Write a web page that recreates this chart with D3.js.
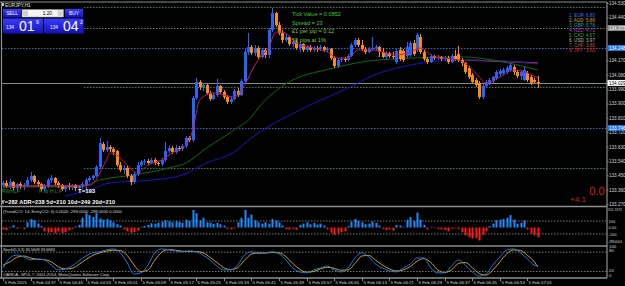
<!DOCTYPE html>
<html>
<head>
<meta charset="utf-8">
<script src="https://cdnjs.cloudflare.com/ajax/libs/d3/7.8.5/d3.min.js"></script>
<style>
body { margin: 0; background: #000; overflow: hidden; }
text { font-family: "Liberation Sans", "DejaVu Sans", sans-serif; }
</style>
</head>
<body>
<script>
var width = 625,
    height = 286;

// ---- data ----
var symbol = "EURJPY,H1";

var timeLabels = ["5 Feb 2015", "5 Feb 04:37", "5 Feb 04:45", "5 Feb 04:53", "5 Feb 05:01",
    "5 Feb 05:09", "5 Feb 05:17", "5 Feb 05:25", "5 Feb 05:33", "5 Feb 05:41", "5 Feb 05:49",
    "5 Feb 05:57", "5 Feb 06:05", "5 Feb 06:13", "5 Feb 06:21", "5 Feb 06:29", "5 Feb 06:37",
    "5 Feb 06:45", "5 Feb 06:53", "5 Feb 07:01"];

var priceTicks = [134.530, 134.440, 134.350, 134.260, 134.170, 134.080, 133.990, 133.900,
    133.810, 133.720, 133.630, 133.540, 133.450, 133.360, 133.270];

// open, high, low, close
var candles = [
[133.389,133.414,133.370,133.402],[133.402,133.420,133.370,133.383],[133.383,133.427,133.364,133.408],
[133.408,133.414,133.358,133.370],[133.370,133.402,133.351,133.395],[133.395,133.408,133.364,133.383],
[133.383,133.402,133.358,133.389],[133.389,133.439,133.377,133.420],[133.420,133.471,133.408,133.446],
[133.446,133.452,133.395,133.408],[133.408,133.420,133.377,133.395],[133.395,133.402,133.351,133.364],
[133.364,133.395,133.351,133.383],[133.383,133.433,133.370,133.420],[133.420,133.452,133.402,133.433],
[133.433,133.439,133.389,133.402],[133.402,133.414,133.370,133.389],[133.389,133.395,133.351,133.364],
[133.364,133.389,133.345,133.383],[133.383,133.402,133.358,133.377],[133.377,133.395,133.358,133.389],
[133.389,133.395,133.351,133.370],[133.370,133.389,133.351,133.383],[133.383,133.408,133.364,133.395],
[133.389,133.433,133.358,133.420],[133.420,133.446,133.408,133.433],[133.433,133.452,133.420,133.446],
[133.446,133.514,133.439,133.502],[133.502,133.684,133.489,133.652],[133.646,133.659,133.596,133.609],
[133.609,133.665,133.596,133.627],[133.627,133.640,133.596,133.615],[133.615,133.627,133.577,133.596],
[133.602,133.609,133.502,133.514],[133.514,133.533,133.471,133.483],[133.483,133.514,133.458,133.496],
[133.496,133.508,133.433,133.446],[133.446,133.458,133.389,133.408],[133.408,133.471,133.395,133.458],
[133.458,133.533,133.446,133.514],[133.514,133.546,133.502,133.533],[133.533,133.552,133.514,133.540],
[133.540,133.552,133.514,133.527],[133.527,133.558,133.521,133.546],[133.546,133.558,133.514,133.527],
[133.527,133.540,133.508,133.521],[133.521,133.558,133.508,133.546],[133.546,133.659,133.533,133.602],
[133.602,133.634,133.590,133.621],[133.621,133.634,133.583,133.596],[133.596,133.640,133.583,133.621],
[133.621,133.634,133.602,133.615],[133.615,133.646,133.602,133.634],[133.634,133.696,133.621,133.684],
[133.684,133.696,133.659,133.671],[133.671,133.947,133.659,133.935],[133.935,134.060,133.922,134.035],
[134.035,134.047,133.985,134.004],[134.004,134.029,133.978,134.016],[134.016,134.022,133.953,133.966],
[133.966,133.978,133.916,133.928],[133.928,133.966,133.922,133.953],[133.953,134.054,133.941,134.010],
[134.010,134.016,133.960,133.972],[133.972,133.985,133.928,133.941],[133.941,133.953,133.897,133.910],
[133.910,133.941,133.897,133.928],[133.928,133.991,133.922,133.978],[133.978,133.997,133.941,133.953],
[133.953,134.054,133.947,134.041],[134.041,134.248,134.029,134.223],[134.223,134.342,134.204,134.254],
[134.254,134.267,134.204,134.217],[134.217,134.267,134.198,134.248],[134.248,134.261,134.179,134.192],
[134.192,134.248,134.185,134.236],[134.236,134.248,134.185,134.204],[134.204,134.373,134.185,134.361],
[134.361,134.499,134.348,134.467],[134.467,134.474,134.380,134.392],[134.392,134.411,134.330,134.342],
[134.342,134.361,134.279,134.298],[134.298,134.336,134.286,134.317],[134.317,134.323,134.261,134.273],
[134.273,134.298,134.254,134.286],[134.286,134.298,134.236,134.248],[134.248,134.286,134.223,134.273],
[134.273,134.279,134.223,134.236],[134.236,134.267,134.223,134.254],[134.254,134.267,134.223,134.236],
[134.236,134.261,134.223,134.248],[134.248,134.261,134.223,134.242],[134.242,134.267,134.229,134.254],
[134.254,134.261,134.223,134.236],[134.236,134.254,134.223,134.242],[134.242,134.248,134.173,134.185],
[134.185,134.198,134.123,134.135],[134.135,134.185,134.123,134.173],[134.173,134.192,134.160,134.179],
[134.179,134.192,134.160,134.173],[134.173,134.210,134.167,134.198],[134.198,134.279,134.192,134.267],
[134.267,134.311,134.254,134.298],[134.298,134.311,134.254,134.267],[134.267,134.298,134.229,134.242],
[134.242,134.254,134.210,134.223],[134.223,134.254,134.217,134.242],[134.242,134.317,134.229,134.248],
[134.248,134.267,134.236,134.254],[134.254,134.261,134.192,134.223],[134.223,134.248,134.185,134.192],
[134.192,134.229,134.179,134.217],[134.217,134.223,134.185,134.198],[134.198,134.223,134.179,134.192],
[134.160,134.242,134.148,134.229],[134.236,134.254,134.167,134.179],[134.229,134.242,134.160,134.173],
[134.198,134.286,134.185,134.254],[134.204,134.292,134.192,134.279],[134.279,134.298,134.198,134.210],
[134.236,134.342,134.223,134.330],[134.317,134.336,134.210,134.223],[134.223,134.236,134.167,134.179],
[134.179,134.192,134.148,134.160],[134.160,134.210,134.154,134.198],[134.198,134.204,134.173,134.185],
[134.185,134.204,134.173,134.192],[134.192,134.198,134.167,134.179],[134.179,134.198,134.167,134.185],
[134.185,134.198,134.148,134.160],[134.160,134.210,134.154,134.198],[134.198,134.236,134.167,134.179],
[134.210,134.261,134.160,134.173],[134.173,134.185,134.135,134.154],[134.154,134.160,134.085,134.098],
[134.123,134.135,134.054,134.066],[134.079,134.091,134.022,134.035],[134.047,134.060,134.004,134.016],
[134.029,134.041,133.928,133.941],[133.941,134.022,133.928,134.010],[134.010,134.047,133.997,134.035],
[134.029,134.060,134.016,134.047],[134.041,134.073,134.029,134.066],[134.060,134.110,134.047,134.098],
[134.085,134.116,134.073,134.104],[134.091,134.123,134.079,134.110],[134.098,134.135,134.085,134.123],
[134.110,134.154,134.098,134.141],[134.129,134.141,134.079,134.098],[134.098,134.110,134.060,134.073],
[134.073,134.110,134.047,134.098],[134.047,134.129,134.041,134.110],[134.091,134.104,134.035,134.047],
[134.066,134.079,134.016,134.029],[134.047,134.060,134.022,134.035],[134.035,134.073,133.997,134.029]
];

// moving averages, [bar, price]
var maFast = [[0,133.377],[9,133.383],[19,133.383],[25,133.389],[27,133.420],[28,133.464],[30,133.546],
    [31,133.590],[33,133.577],[36,133.514],[39,133.464],[42,133.514],[46,133.546],[49,133.590],
    [53,133.640],[55,133.734],[57,133.922],[61,133.966],[67,133.941],[70,134.016],[73,134.141],
    [75,134.204],[77,134.248],[79,134.348],[81,134.348],[85,134.279],[90,134.248],[94,134.223],
    [97,134.185],[100,134.185],[103,134.236],[107,134.236],[110,134.223],[114,134.204],[118,134.223],
    [121,134.248],[125,134.192],[132,134.173],[137,134.091],[140,134.029],[144,134.066],[148,134.110],
    [152,134.091],[155,134.060]];
var maMid = [[0,133.377],[22,133.377],[28,133.420],[38,133.452],[48,133.496],[53,133.527],[59,133.621],
    [67,133.734],[72,133.815],[74,133.872],[81,134.010],[96,134.123],[109,134.173],[133,134.192],
    [145,134.160],[155,134.110]];
var maSlow = [[18,133.320],[25,133.358],[31,133.402],[43,133.420],[52,133.452],[59,133.527],[67,133.596],
    [72,133.684],[86,133.859],[100,133.997],[110,134.098],[133,134.173],[145,134.167],[155,134.148]];
var dayOpenLeft = [[0,133.383],[24,133.383]];
var dayOpenRight = [[134,134.173],[155,134.154]];

// horizontal levels
var greenLevels = [134.505, 134.004, 133.496];
var blueLevels = [134.248, 133.746];
var grayLevels = [134.373];

var cci = [-30,-40,10,35,-20,5,-25,80,130,110,60,20,-60,-80,-70,-90,-60,-85,-75,-40,
    -20,15,40,150,220,190,160,220,140,120,130,110,80,50,30,-30,-60,-80,-70,-50,
    10,25,40,65,60,75,90,110,95,80,95,85,70,120,100,270,220,110,150,80,
    75,55,70,50,30,-20,-25,-15,80,150,270,150,200,110,80,60,80,60,130,110,
    80,30,-25,-30,-20,-35,40,60,80,50,70,45,60,30,-30,-80,-110,-90,-70,-60,
    20,90,130,100,80,50,60,90,70,30,-20,-40,-30,-50,40,30,10,120,160,100,
    230,120,40,-30,10,-10,-20,-30,-40,-60,-20,-10,-20,-70,-120,-150,-170,-160,-200,-110,
    -60,20,60,110,120,130,150,190,120,60,70,110,-30,-90,-120,-150];

var stochMain = [[0,31],[2,62],[4,71],[6,65],[8,56],[10,59],[12,56],[14,40],[16,25],[18,28],[20,37],
    [22,53],[24,68],[26,78],[28,81],[30,87],[32,90],[34,78],[36,47],[38,12],[40,16],[42,40],[44,78],
    [46,90],[48,87],[50,84],[52,81],[54,84],[56,81],[58,71],[60,56],[62,37],[64,25],[66,25],[68,40],
    [70,71],[72,81],[74,75],[76,78],[78,81],[80,75],[82,56],[84,31],[86,19],[88,16],[90,25],[92,31],
    [94,37],[96,25],[98,19],[100,31],[102,62],[104,78],[106,65],[108,43],[110,31],[112,22],[114,19],
    [116,31],[118,43],[120,62],[122,62],[124,31],[126,16],[128,16],[130,37],[132,56],[134,40],[136,19],
    [138,6],[140,12],[142,40],[144,65],[146,87],[148,90],[150,78],[152,59],[154,40],[155,37]];
var stochSignal = [[0,40],[2,50],[4,64],[6,68],[8,62],[10,58],[12,57],[14,50],[16,35],[18,28],[20,30],
    [22,42],[24,57],[26,70],[28,78],[30,83],[32,86],[34,85],[36,70],[38,40],[40,20],[42,25],[44,55],
    [46,80],[48,88],[50,86],[52,83],[54,82],[56,82],[58,78],[60,64],[62,48],[64,32],[66,26],[68,32],
    [70,55],[72,74],[74,78],[76,77],[78,79],[80,78],[82,66],[84,45],[86,27],[88,18],[90,20],[92,28],
    [94,33],[96,30],[98,24],[100,25],[102,45],[104,68],[106,70],[108,55],[110,40],[112,28],[114,22],
    [116,25],[118,35],[120,52],[122,60],[124,48],[126,25],[128,17],[130,25],[132,45],[134,48],[136,32],
    [138,14],[140,9],[142,25],[144,50],[146,75],[148,87],[150,85],[152,70],[154,50],[155,34]];

var infoLines = ["Tick Value = 0.0852", "Spread = 23", "\u00a31 per pip = 0.12", "58 pips at 1%"];
var strengthNames = ["EUR", "AUD", "GBP", "NZD", "CAD", "USD", "CHF", "JPY"];
var strengthValues = ["6.80", "5.86", "5.78", "4.71", "4.57", "3.97", "3.80", "3.60"];
var strengthColors = ["#3b78ff", "#d9a300", "#18a8a8", "#b43cc8", "#2fae2f", "#bdbdbd", "#c8503c", "#e02828"];

var rangeText = "Y=282  ADR=238  5d=210  10d=249  20d=210";
var pivotTags = ["RWHLF", "RWHLF"];
var cciTitle = "(TrendCCI: 14, EntryCCI: 6) 0.0000 -299.0000 -299.0000 0.0000";
var stochTitle = "Stoch(5,3,3) 36.5609 33.6663";
var copyright = "OANDA - MT4, \u00a9 2001-2014, MetaQuotes Software Corp.";
var cciAxisLabels = [[300, "311.7472"], [100, "100"], [0, "0.00"], [-100, "-100"], [-215, "-288.6004"]];
var stochAxisLabels = [[96, "100"], [84, "80"], [22, "20"], [8, "0"]];

// ---- layout ----
var axisX = 607;
var mainTop = 2, mainBottom = 206, cciTop = 207, cciBottom = 246, stochTop = 247, stochBottom = 278;
var upColor = "#2366ff", downColor = "#ff8a10";
var gridGray = "#8e8e8e", labelColor = "#d8d8d8";

var svg = d3.select("body").append("svg")
    .attr("width", width)
    .attr("height", height)
    .style("background-color", "#000");

var x = d3.scaleLinear().domain([0, candles.length - 1]).range([3, 537.8]);
var y = d3.scaleLinear().domain([133.270, 134.530]).range([204, 3]);
var yCci = d3.scaleLinear().domain([-100, 100]).range([234, 221]);
var yStoch = d3.scaleLinear().domain([0, 100]).range([stochBottom, 245.7]);

var defs = svg.append("defs");
function clip(id, top, bottom) {
    defs.append("clipPath").attr("id", id).append("rect")
        .attr("x", 2).attr("y", top).attr("width", axisX - 2).attr("height", bottom - top);
}
clip("cMain", mainTop + 1, mainBottom);
clip("cCci", cciTop + 1, cciBottom);
clip("cStoch", stochTop + 1, stochBottom);

var main = svg.append("g").attr("clip-path", "url(#cMain)");

// horizontal levels
function level(prices, color, dash, x0) {
    main.selectAll(null).data(prices).enter().append("line")
        .attr("x1", x0).attr("x2", axisX)
        .attr("y1", d => Math.round(y(d)) + 0.5).attr("y2", d => Math.round(y(d)) + 0.5)
        .attr("stroke", color).attr("stroke-width", 1)
        .attr("stroke-dasharray", dash);
}
level(greenLevels, "#2e8b57", "1.5,1.5", 84);
level(blueLevels, "#1e70d0", "1.5,1.5", 2);
level(grayLevels, "#7a7a7a", "1.5,1.5", 84);

var last = candles[candles.length - 1][3];
main.append("line")
    .attr("x1", 2).attr("x2", axisX)
    .attr("y1", Math.round(y(last)) + 0.5).attr("y2", Math.round(y(last)) + 0.5)
    .attr("stroke", "#8a8a8a").attr("stroke-width", 1);

// moving averages
var maLine = d3.line().x(d => x(d[0])).y(d => y(d[1])).curve(d3.curveMonotoneX);
main.append("path").datum(dayOpenLeft).attr("d", maLine).attr("fill", "none").attr("stroke", "#9a2a10").attr("stroke-width", 1.2);
main.append("path").datum(dayOpenRight).attr("d", maLine).attr("fill", "none").attr("stroke", "#a8320c").attr("stroke-width", 1.6);
main.append("path").datum(maSlow).attr("d", maLine).attr("fill", "none").attr("stroke", "#1414c8").attr("stroke-width", 1);
main.append("path").datum(maMid).attr("d", maLine).attr("fill", "none").attr("stroke", "#0a6a0a").attr("stroke-width", 1);

// candles
var bars = main.selectAll(".bar").data(candles).enter().append("g").attr("class", "bar");
bars.append("line")
    .attr("x1", (d, i) => Math.round(x(i)) + 0.5).attr("x2", (d, i) => Math.round(x(i)) + 0.5)
    .attr("y1", d => y(d[1])).attr("y2", d => y(d[2]))
    .attr("stroke", d => d[3] >= d[0] ? upColor : downColor).attr("stroke-width", 1);
bars.append("rect")
    .attr("x", (d, i) => Math.round(x(i)) - 1)
    .attr("y", d => y(Math.max(d[0], d[3])))
    .attr("width", 3)
    .attr("height", d => Math.max(1, Math.abs(y(d[0]) - y(d[3]))))
    .attr("fill", d => d[3] >= d[0] ? upColor : downColor);

main.append("path").datum(maFast).attr("d", maLine).attr("fill", "none").attr("stroke", "#c8146e").attr("stroke-width", 1);

// info text
svg.selectAll(".info").data(infoLines).enter().append("text")
    .attr("x", 292).attr("y", (d, i) => 16 + i * 8.7)
    .attr("font-size", 5.6).attr("fill", (d, i) => i < 2 ? "#3cc83c" : "#78c83c")
    .text(d => d);

// currency strength
var st = svg.selectAll(".str").data(strengthNames).enter().append("g")
    .attr("transform", (d, i) => "translate(0," + (16.5 + i * 5) + ")");
st.append("text").attr("x", 569).attr("font-size", 4.6).attr("fill", (d, i) => strengthColors[i])
    .text((d, i) => (i + 1) + ". " + d);
st.append("text").attr("x", 586).attr("font-size", 4.6).attr("fill", (d, i) => strengthColors[i])
    .text((d, i) => strengthValues[i]);

// trading panel
var grad = defs.append("linearGradient").attr("id", "gBlue").attr("x1", 0).attr("x2", 0).attr("y1", 0).attr("y2", 1);
grad.append("stop").attr("offset", 0).attr("stop-color", "#3a3aff");
grad.append("stop").attr("offset", 1).attr("stop-color", "#1212b8");
svg.append("text").attr("x", 5).attr("y", 6.5).attr("font-size", 4.8).attr("fill", "#e0e0e0").text(symbol);
svg.append("rect").attr("x", 1.5).attr("y", 3).attr("width", 2.5).attr("height", 3).attr("fill", "#c0c0c0");
svg.append("rect").attr("x", 3).attr("y", 9).attr("width", 18).attr("height", 8.5).attr("fill", "url(#gBlue)");
svg.append("rect").attr("x", 65).attr("y", 9).attr("width", 18).attr("height", 8.5).attr("fill", "url(#gBlue)");
svg.append("rect").attr("x", 22).attr("y", 9.5).attr("width", 41.5).attr("height", 7.5).attr("fill", "#f4f4f4").attr("stroke", "#9a9a9a").attr("stroke-width", 0.5);
svg.append("rect").attr("x", 23).attr("y", 10.5).attr("width", 5).attr("height", 5.5).attr("fill", "#cfcfcf");
svg.append("rect").attr("x", 57.5).attr("y", 10.5).attr("width", 5).attr("height", 5.5).attr("fill", "#cfcfcf");
svg.append("text").attr("x", 12).attr("y", 15).attr("font-size", 4.8).attr("fill", "#fff").attr("text-anchor", "middle").text("SELL");
svg.append("text").attr("x", 74).attr("y", 15).attr("font-size", 4.8).attr("fill", "#fff").attr("text-anchor", "middle").text("BUY");
svg.append("text").attr("x", 52).attr("y", 15).attr("font-size", 4.8).attr("fill", "#000").attr("text-anchor", "end").text("1.20");
svg.append("rect").attr("x", 3).attr("y", 18.5).attr("width", 40).attr("height", 15).attr("fill", "url(#gBlue)");
svg.append("rect").attr("x", 44).attr("y", 18.5).attr("width", 39.5).attr("height", 15).attr("fill", "url(#gBlue)");
var quotes = [["134", "01", "9", 6], ["134", "04", "2", 50]];
quotes.forEach(function (q) {
    svg.append("text").attr("x", q[3]).attr("y", 29).attr("font-size", 4.8).attr("fill", "#fff").text(q[0]);
    svg.append("text").attr("x", q[3] + 13).attr("y", 31).attr("font-size", 14).attr("fill", "#fff").text(q[1]);
    svg.append("text").attr("x", q[3] + 30).attr("y", 24).attr("font-size", 5).attr("fill", "#fff").text(q[2]);
});

// misc labels in the main pane
svg.append("text").attr("x", 1).attr("y", 204).attr("font-size", 5.6).attr("font-weight", "bold")
    .attr("fill", "#fff").attr("textLength", 114).text(rangeText);
svg.append("text").attr("x", 78).attr("y", 193).attr("font-size", 6).attr("font-weight", "bold")
    .attr("fill", "#fff").text("T=193");
svg.selectAll(".piv").data(pivotTags).enter().append("text")
    .attr("x", (d, i) => i === 0 ? 2 : 39).attr("y", 192.5)
    .attr("font-size", 5).attr("fill", "#22b422").attr("opacity", 0.85)
    .attr("textLength", (d, i) => i === 0 ? 18 : 23).text(d => d);
svg.append("text").attr("x", 597).attr("y", 195).attr("font-size", 11).attr("fill", "#d21e1e")
    .attr("text-anchor", "middle").text("0.0");
svg.append("text").attr("x", 578).attr("y", 201.5).attr("font-size", 8).attr("fill", "#d21e1e")
    .attr("text-anchor", "middle").text("+4.1");

// CCI pane
var cg = svg.append("g").attr("clip-path", "url(#cCci)");
[100, -100].forEach(function (v) {
    cg.append("line").attr("x1", 2).attr("x2", axisX).attr("y1", yCci(v)).attr("y2", yCci(v))
        .attr("stroke", "#777").attr("stroke-dasharray", "1.5,1.5");
});
cg.selectAll(".cci").data(cci).enter().append("rect")
    .attr("x", (d, i) => Math.round(x(i)) - 0.5)
    .attr("y", d => Math.min(yCci(0), yCci(d)))
    .attr("width", 2)
    .attr("height", d => Math.abs(yCci(d) - yCci(0)))
    .attr("fill", d => d >= 0 ? "#1e8cff" : "#ff1a1a");
svg.append("text").attr("x", 3).attr("y", 212.5).attr("font-size", 4.3).attr("fill", "#cfcfcf")
    .attr("textLength", 119).text(cciTitle);

// Stochastic pane
var sg = svg.append("g").attr("clip-path", "url(#cStoch)");
[80, 20].forEach(function (v) {
    sg.append("line").attr("x1", 2).attr("x2", axisX).attr("y1", yStoch(v)).attr("y2", yStoch(v))
        .attr("stroke", "#777").attr("stroke-dasharray", "1.5,1.5");
});
var stLine = d3.line().x(d => x(d[0])).y(d => yStoch(d[1])).curve(d3.curveMonotoneX);
sg.append("path").datum(stochSignal).attr("d", stLine).attr("fill", "none").attr("stroke", "#d4a514").attr("stroke-width", 1);
sg.append("path").datum(stochMain).attr("d", stLine).attr("fill", "none").attr("stroke", "#1e78e6").attr("stroke-width", 1);
svg.append("text").attr("x", 3).attr("y", 251).attr("font-size", 4.3).attr("fill", "#cfcfcf")
    .attr("textLength", 52).text(stochTitle);
svg.append("text").attr("x", 3).attr("y", 276).attr("font-size", 4.3).attr("fill", "#cfcfcf")
    .attr("textLength", 107).text(copyright);

// frames
var frame = svg.append("g").attr("stroke", gridGray).attr("stroke-width", 1.2);
frame.append("line").attr("x1", 0).attr("x2", axisX).attr("y1", mainTop).attr("y2", mainTop);
[mainBottom + 0.5, cciBottom, stochBottom].forEach(function (v) {
    frame.append("line").attr("x1", 0).attr("x2", axisX).attr("y1", v).attr("y2", v).attr("stroke-width", 1.6);
});
frame.append("line").attr("x1", 1.5).attr("x2", 1.5).attr("y1", mainTop).attr("y2", stochBottom);
frame.append("line").attr("x1", axisX).attr("x2", axisX).attr("y1", mainTop).attr("y2", stochBottom);

// price axis; tick labels hidden under a price tag are left out
var tagPrices = grayLevels.concat(blueLevels, [last]);
var shownTicks = priceTicks.filter(t => tagPrices.every(p => Math.abs(y(t) - y(p)) > 4));
var axis = svg.append("g").attr("transform", "translate(" + axisX + ",0)")
    .call(d3.axisRight(y).tickValues(shownTicks).tickSize(1.5).tickFormat(d3.format(".3f")));
axis.select(".domain").remove();
axis.selectAll("line").attr("stroke", gridGray);
axis.selectAll("text").attr("x", 2).attr("font-size", 4.6).attr("fill", labelColor)
    .style("font-family", "Liberation Sans, sans-serif");

function tag(price, bg, fg) {
    var yy = y(price);
    svg.append("rect").attr("x", axisX + 0.5).attr("y", yy - 3).attr("width", 17.5).attr("height", 6).attr("fill", bg);
    svg.append("text").attr("x", axisX + 2).attr("y", yy + 1.7).attr("font-size", 4.6).attr("fill", fg)
        .text(d3.format(".3f")(price));
}
grayLevels.forEach(p => tag(p, "#8a8a8a", "#fff"));
blueLevels.forEach(p => tag(p, "#1e78e6", "#fff"));
tag(last, "#fff", "#000");

cciAxisLabels.forEach(function (d) {
    var long = d[1].length > 5;
    var t = svg.append("text").attr("x", axisX + (long ? 1 : 1.5))
        .attr("y", Math.max(cciTop + 4, yCci(d[0]) + 1.5))
        .attr("font-size", long ? 3.5 : 4).attr("fill", labelColor).text(d[1]);
    if (long) t.attr("textLength", 14).attr("lengthAdjust", "spacingAndGlyphs");
});
stochAxisLabels.forEach(function (d) {
    svg.append("text").attr("x", axisX + 2).attr("y", yStoch(d[0]) + 1.5)
        .attr("font-size", 4.3).attr("fill", labelColor).text(d[1]);
});

// time axis
var tg = svg.selectAll(".tl").data(timeLabels).enter().append("g")
    .attr("transform", (d, i) => "translate(" + Math.round(x(i * 8)) + ",0)");
tg.append("line").attr("x1", 0.5).attr("x2", 0.5).attr("y1", stochBottom).attr("y2", stochBottom + 3)
    .attr("stroke", gridGray);
tg.append("text").attr("x", 1.5).attr("y", 284).attr("font-size", 4.4).attr("fill", labelColor)
    .text(d => d);
</script>
</body>
</html>
